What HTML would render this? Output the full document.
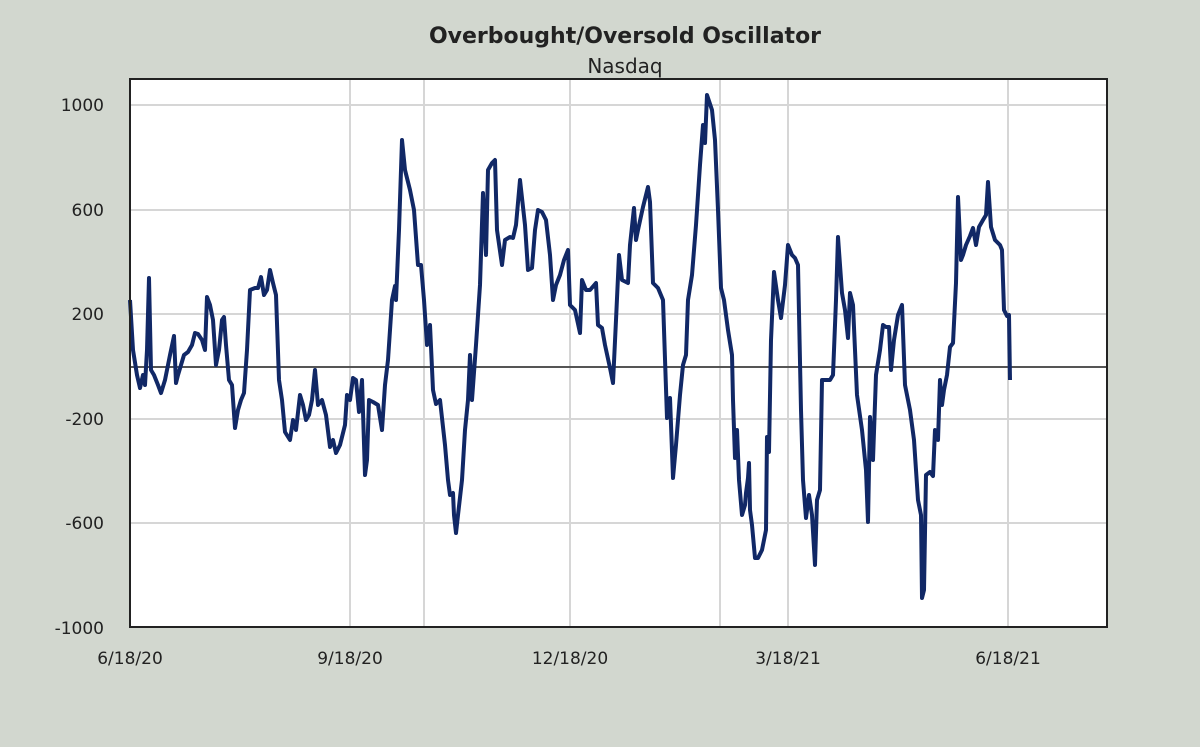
<!DOCTYPE html>
<html><head><meta charset="utf-8"><style>
html,body{margin:0;padding:0;background:#d2d7cf;}
svg{display:block;}
text{font-family:"DejaVu Sans","Liberation Sans",sans-serif;fill:#222;}
</style></head><body>
<svg width="1200" height="747" viewBox="0 0 1200 747" xmlns="http://www.w3.org/2000/svg">
<rect width="1200" height="747" fill="#d2d7cf"/>
<text x="625" y="43" text-anchor="middle" font-size="22" font-weight="bold" fill="#333">Overbought/Oversold Oscillator</text>
<text x="625" y="73" text-anchor="middle" font-size="20" fill="#333">Nasdaq</text>
<rect x="130" y="79" width="977" height="548" fill="#fff"/>
<g stroke="#d6d6d6" stroke-width="2">
<line x1="130" y1="105" x2="1107" y2="105"/>
<line x1="130" y1="210" x2="1107" y2="210"/>
<line x1="130" y1="314" x2="1107" y2="314"/>
<line x1="130" y1="419" x2="1107" y2="419"/>
<line x1="130" y1="523" x2="1107" y2="523"/>
<line x1="350" y1="79" x2="350" y2="627"/>
<line x1="424" y1="79" x2="424" y2="627"/>
<line x1="570" y1="79" x2="570" y2="627"/>
<line x1="720" y1="79" x2="720" y2="627"/>
<line x1="788" y1="79" x2="788" y2="627"/>
<line x1="1008" y1="79" x2="1008" y2="627"/>
</g>
<line x1="130" y1="367" x2="1107" y2="367" stroke="#555" stroke-width="2"/>
<polyline fill="none" stroke="#112866" stroke-width="4" stroke-linejoin="round" points="130,300 133,350 137,375 140,388 143,375 145,385 147,350 149,278 151,370 154,375 158,385 161,393 165,380 170,355 174,336 176,383 178,375 181,365 184,355 188,352 192,345 195,333 198,334 202,340 205,350 207,297 210,305 213,320 216,365 219,350 222,320 224,317 226,345 229,380 232,385 235,428 238,410 241,400 244,393 247,350 250,290 255,288 258,288 261,277 264,295 267,290 270,270 273,283 276,295 279,380 282,400 285,432 290,440 293,420 296,430 300,395 303,405 306,420 309,415 312,400 315,370 318,405 322,400 326,415 330,447 333,440 336,453 340,445 345,425 347,395 350,400 353,378 356,380 359,412 362,380 365,475 367,460 369,400 373,402 378,405 382,430 385,385 388,360 392,300 395,286 396,300 399,230 402,140 405,170 410,190 414,210 418,265 421,265 424,300 427,345 430,325 433,390 436,404 440,400 445,445 448,480 450,495 453,493 454,515 456,533 458,515 462,480 465,430 468,400 470,355 472,400 476,345 480,285 483,193 486,255 488,170 492,163 495,160 497,230 502,265 505,240 510,237 513,238 516,225 520,180 525,225 528,270 532,268 535,230 538,210 542,212 546,220 550,255 553,300 556,285 560,275 564,260 568,250 570,305 575,310 580,333 582,280 586,290 590,290 596,283 598,325 602,328 605,345 610,368 613,383 616,320 619,255 622,280 628,283 630,245 634,208 636,240 638,230 643,207 648,187 650,202 653,283 658,288 663,300 667,418 670,398 673,478 676,445 680,395 683,365 686,355 688,300 692,275 696,225 700,165 703,125 705,143 707,95 712,110 715,140 718,210 721,288 724,300 728,330 732,355 733,400 735,458 737,430 739,480 742,515 745,505 746,493 748,478 749,463 750,510 752,525 755,558 758,558 762,550 766,530 767,437 769,452 771,340 774,272 778,300 781,318 785,285 788,245 792,255 795,258 798,265 801,410 803,480 806,518 809,495 812,515 815,565 817,500 820,490 822,380 826,380 830,380 833,375 836,300 838,237 842,293 845,310 848,338 850,293 853,305 857,395 862,430 866,470 868,522 870,417 873,460 876,375 880,350 883,325 886,327 889,327 891,370 894,340 898,315 902,305 905,385 910,410 914,440 918,500 921,515 922,598 924,590 926,475 930,472 933,476 935,430 938,440 940,380 942,405 944,390 947,375 950,347 953,343 956,283 958,197 961,260 963,255 966,245 970,236 973,228 976,245 979,227 983,220 986,215 988,182 991,227 995,240 1000,245 1002,250 1004,310 1007,316 1009,315 1010,380"/>
<rect x="130" y="79" width="977" height="548" fill="none" stroke="#222" stroke-width="2"/>
<g font-size="17" text-anchor="end">
<text x="104" y="111">1000</text>
<text x="104" y="216">600</text>
<text x="104" y="320">200</text>
<text x="104" y="425">-200</text>
<text x="104" y="529">-600</text>
<text x="104" y="634">-1000</text>
</g>
<g font-size="17" text-anchor="middle">
<text x="130" y="664">6/18/20</text>
<text x="350" y="664">9/18/20</text>
<text x="570" y="664">12/18/20</text>
<text x="788" y="664">3/18/21</text>
<text x="1008" y="664">6/18/21</text>
</g>
</svg>
</body></html>
